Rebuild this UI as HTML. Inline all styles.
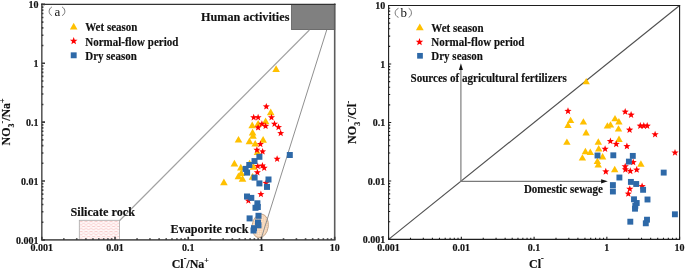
<!DOCTYPE html>
<html><head><meta charset="utf-8"><style>
html,body{margin:0;padding:0;background:#fff;}
body{width:685px;height:270px;overflow:hidden;}
svg{display:block;will-change:transform;}
text{font-family:"Liberation Serif",serif;font-weight:bold;fill:#111;stroke:#111;stroke-width:0.15px;}
.tk{font-size:10px;}
.an{font-size:12.2px;}
.an2{font-size:11px;}
.lg{font-size:11px;}
.at{font-size:12px;}
.pl{font-size:13px;font-weight:normal;stroke:none;fill:#111;}
</style></head><body>
<svg width="685" height="270" viewBox="0 0 685 270">
<defs>
<pattern id="pk" x="79.3" y="220.3" width="5" height="3.3" patternUnits="userSpaceOnUse">
<rect width="5" height="3.3" fill="#fffafa"/>
<rect x="0.3" y="0.9" width="3" height="0.9" fill="#f8c6c6"/>
<rect x="2.8" y="2.55" width="3" height="0.9" fill="#f8c6c6"/>
<rect x="-2.2" y="2.55" width="3" height="0.9" fill="#f8c6c6"/>
</pattern>
<pattern id="pc" width="2" height="2" patternUnits="userSpaceOnUse">
<rect width="2" height="2" fill="#fce8d6"/>
<path d="M0 0.5H2M0.5 0V2" stroke="#f2c9a4" stroke-width="0.6"/>
</pattern>
</defs>
<rect width="685" height="270" fill="#fff"/>
<rect x="79.3" y="220.3" width="40.3" height="19.2" fill="url(#pk)" stroke="#a8a8a8" stroke-width="0.8"/>
<rect x="291.6" y="4.5" width="43.2" height="25.1" fill="#808080" stroke="#5a5a5a" stroke-width="0.8"/>
<ellipse cx="260.2" cy="225.9" rx="8.1" ry="12.0" transform="rotate(8 260.2 225.9)" fill="url(#pc)" stroke="#b39478" stroke-width="0.75"/>
<path d="M119.7 220.5L309.4 30" stroke="#a2a2a2" stroke-width="1.15" fill="none"/>
<path d="M261.3 238.2L326.7 30" stroke="#909090" stroke-width="1.0" fill="none"/>
<path d="M276.10 65.31L279.90 72.01L272.30 72.01Z" fill="#FFC000"/>
<path d="M270.70 108.61L274.50 115.31L266.90 115.31Z" fill="#FFC000"/>
<path d="M265.60 117.51L269.40 124.21L261.80 124.21Z" fill="#FFC000"/>
<path d="M258.10 120.01L261.90 126.71L254.30 126.71Z" fill="#FFC000"/>
<path d="M252.20 121.51L256.00 128.21L248.40 128.21Z" fill="#FFC000"/>
<path d="M252.60 128.71L256.40 135.41L248.80 135.41Z" fill="#FFC000"/>
<path d="M253.00 132.01L256.80 138.71L249.20 138.71Z" fill="#FFC000"/>
<path d="M238.50 135.91L242.30 142.61L234.70 142.61Z" fill="#FFC000"/>
<path d="M249.40 137.51L253.20 144.21L245.60 144.21Z" fill="#FFC000"/>
<path d="M263.10 136.11L266.90 142.81L259.30 142.81Z" fill="#FFC000"/>
<path d="M255.20 139.91L259.00 146.61L251.40 146.61Z" fill="#FFC000"/>
<path d="M257.50 148.41L261.30 155.11L253.70 155.11Z" fill="#FFC000"/>
<path d="M234.40 159.81L238.20 166.51L230.60 166.51Z" fill="#FFC000"/>
<path d="M249.60 159.71L253.40 166.41L245.80 166.41Z" fill="#FFC000"/>
<path d="M253.50 163.01L257.30 169.71L249.70 169.71Z" fill="#FFC000"/>
<path d="M240.80 163.81L244.60 170.51L237.00 170.51Z" fill="#FFC000"/>
<path d="M241.30 169.31L245.10 176.01L237.50 176.01Z" fill="#FFC000"/>
<path d="M238.40 172.51L242.20 179.21L234.60 179.21Z" fill="#FFC000"/>
<path d="M242.50 175.01L246.30 181.71L238.70 181.71Z" fill="#FFC000"/>
<path d="M252.50 173.11L256.30 179.81L248.70 179.81Z" fill="#FFC000"/>
<path d="M223.90 178.51L227.70 185.21L220.10 185.21Z" fill="#FFC000"/>
<path d="M266.30 102.90L267.21 105.34L269.82 105.46L267.78 107.08L268.47 109.59L266.30 108.15L264.13 109.59L264.82 107.08L262.78 105.46L265.39 105.34Z" fill="#FF0000"/>
<path d="M253.70 113.80L254.61 116.24L257.22 116.36L255.18 117.98L255.87 120.49L253.70 119.05L251.53 120.49L252.22 117.98L250.18 116.36L252.79 116.24Z" fill="#FF0000"/>
<path d="M258.10 113.80L259.01 116.24L261.62 116.36L259.58 117.98L260.27 120.49L258.10 119.05L255.93 120.49L256.62 117.98L254.58 116.36L257.19 116.24Z" fill="#FF0000"/>
<path d="M271.50 113.80L272.41 116.24L275.02 116.36L272.98 117.98L273.67 120.49L271.50 119.05L269.33 120.49L270.02 117.98L267.98 116.36L270.59 116.24Z" fill="#FF0000"/>
<path d="M261.90 120.20L262.81 122.64L265.42 122.76L263.38 124.38L264.07 126.89L261.90 125.45L259.73 126.89L260.42 124.38L258.38 122.76L260.99 122.64Z" fill="#FF0000"/>
<path d="M265.60 122.40L266.51 124.84L269.12 124.96L267.08 126.58L267.77 129.09L265.60 127.65L263.43 129.09L264.12 126.58L262.08 124.96L264.69 124.84Z" fill="#FF0000"/>
<path d="M258.10 123.90L259.01 126.34L261.62 126.46L259.58 128.08L260.27 130.59L258.10 129.15L255.93 130.59L256.62 128.08L254.58 126.46L257.19 126.34Z" fill="#FF0000"/>
<path d="M274.50 120.30L275.41 122.74L278.02 122.86L275.98 124.48L276.67 126.99L274.50 125.55L272.33 126.99L273.02 124.48L270.98 122.86L273.59 122.74Z" fill="#FF0000"/>
<path d="M278.50 123.60L279.41 126.04L282.02 126.16L279.98 127.78L280.67 130.29L278.50 128.85L276.33 130.29L277.02 127.78L274.98 126.16L277.59 126.04Z" fill="#FF0000"/>
<path d="M280.70 129.60L281.61 132.04L284.22 132.16L282.18 133.78L282.87 136.29L280.70 134.85L278.53 136.29L279.22 133.78L277.18 132.16L279.79 132.04Z" fill="#FF0000"/>
<path d="M260.40 140.50L261.31 142.94L263.92 143.06L261.88 144.68L262.57 147.19L260.40 145.75L258.23 147.19L258.92 144.68L256.88 143.06L259.49 142.94Z" fill="#FF0000"/>
<path d="M256.90 146.30L257.81 148.74L260.42 148.86L258.38 150.48L259.07 152.99L256.90 151.55L254.73 152.99L255.42 150.48L253.38 148.86L255.99 148.74Z" fill="#FF0000"/>
<path d="M262.60 147.90L263.51 150.34L266.12 150.46L264.08 152.08L264.77 154.59L262.60 153.15L260.43 154.59L261.12 152.08L259.08 150.46L261.69 150.34Z" fill="#FF0000"/>
<path d="M277.10 155.30L278.01 157.74L280.62 157.86L278.58 159.48L279.27 161.99L277.10 160.55L274.93 161.99L275.62 159.48L273.58 157.86L276.19 157.74Z" fill="#FF0000"/>
<path d="M257.80 162.50L258.71 164.94L261.32 165.06L259.28 166.68L259.97 169.19L257.80 167.75L255.63 169.19L256.32 166.68L254.28 165.06L256.89 164.94Z" fill="#FF0000"/>
<path d="M262.40 162.00L263.31 164.44L265.92 164.56L263.88 166.18L264.57 168.69L262.40 167.25L260.23 168.69L260.92 166.18L258.88 164.56L261.49 164.44Z" fill="#FF0000"/>
<path d="M264.20 164.30L265.11 166.74L267.72 166.86L265.68 168.48L266.37 170.99L264.20 169.55L262.03 170.99L262.72 168.48L260.68 166.86L263.29 166.74Z" fill="#FF0000"/>
<path d="M257.40 168.70L258.31 171.14L260.92 171.26L258.88 172.88L259.57 175.39L257.40 173.95L255.23 175.39L255.92 172.88L253.88 171.26L256.49 171.14Z" fill="#FF0000"/>
<path d="M266.00 179.40L266.91 181.84L269.52 181.96L267.48 183.58L268.17 186.09L266.00 184.65L263.83 186.09L264.52 183.58L262.48 181.96L265.09 181.84Z" fill="#FF0000"/>
<path d="M260.90 190.60L261.81 193.04L264.42 193.16L262.38 194.78L263.07 197.29L260.90 195.85L258.73 197.29L259.42 194.78L257.38 193.16L259.99 193.04Z" fill="#FF0000"/>
<path d="M248.40 197.10L249.31 199.54L251.92 199.66L249.88 201.28L250.57 203.79L248.40 202.35L246.23 203.79L246.92 201.28L244.88 199.66L247.49 199.54Z" fill="#FF0000"/>
<rect x="286.80" y="152.00" width="6.0" height="6.0" fill="#2E69A8"/>
<rect x="256.40" y="153.80" width="6.0" height="6.0" fill="#2E69A8"/>
<rect x="251.50" y="158.10" width="6.0" height="6.0" fill="#2E69A8"/>
<rect x="246.30" y="162.00" width="6.0" height="6.0" fill="#2E69A8"/>
<rect x="242.60" y="165.90" width="6.0" height="6.0" fill="#2E69A8"/>
<rect x="244.10" y="169.60" width="6.0" height="6.0" fill="#2E69A8"/>
<rect x="251.60" y="174.60" width="6.0" height="6.0" fill="#2E69A8"/>
<rect x="256.40" y="180.40" width="6.0" height="6.0" fill="#2E69A8"/>
<rect x="265.50" y="176.50" width="6.0" height="6.0" fill="#2E69A8"/>
<rect x="264.00" y="183.90" width="6.0" height="6.0" fill="#2E69A8"/>
<rect x="244.00" y="193.50" width="6.0" height="6.0" fill="#2E69A8"/>
<rect x="248.30" y="194.90" width="6.0" height="6.0" fill="#2E69A8"/>
<rect x="254.40" y="200.30" width="6.0" height="6.0" fill="#2E69A8"/>
<rect x="254.80" y="204.00" width="6.0" height="6.0" fill="#2E69A8"/>
<rect x="252.50" y="204.80" width="6.0" height="6.0" fill="#2E69A8"/>
<rect x="246.60" y="215.40" width="6.0" height="6.0" fill="#2E69A8"/>
<rect x="255.50" y="212.80" width="6.0" height="6.0" fill="#2E69A8"/>
<rect x="255.00" y="219.50" width="6.0" height="6.0" fill="#2E69A8"/>
<rect x="255.50" y="222.30" width="6.0" height="6.0" fill="#2E69A8"/>
<rect x="251.00" y="225.20" width="6.0" height="6.0" fill="#2E69A8"/>
<rect x="250.50" y="227.50" width="6.0" height="6.0" fill="#2E69A8"/>
<path d="M41.8 4.4V239.9H334.7V4.4" fill="none" stroke="#5c5c5c" stroke-width="1.6" stroke-linejoin="miter" stroke-linecap="square"/><path d="M41.0 4.4H335.5" fill="none" stroke="#333" stroke-width="1.3"/><path d="M41.80 239.9v-3.2M41.8 239.90h3.2M63.84 239.9v-1.6M41.8 222.18h1.6M76.74 239.9v-1.6M41.8 211.81h1.6M85.89 239.9v-1.6M41.8 204.45h1.6M92.98 239.9v-1.6M41.8 198.75h1.6M98.78 239.9v-1.6M41.8 194.09h1.6M103.68 239.9v-1.6M41.8 190.14h1.6M107.93 239.9v-1.6M41.8 186.73h1.6M111.67 239.9v-1.6M41.8 183.72h1.6M115.02 239.9v-3.2M41.8 181.03h3.2M137.07 239.9v-1.6M41.8 163.30h1.6M149.96 239.9v-1.6M41.8 152.93h1.6M159.11 239.9v-1.6M41.8 145.58h1.6M166.21 239.9v-1.6M41.8 139.87h1.6M172.01 239.9v-1.6M41.8 135.21h1.6M176.91 239.9v-1.6M41.8 131.27h1.6M181.15 239.9v-1.6M41.8 127.86h1.6M184.90 239.9v-1.6M41.8 124.84h1.6M188.25 239.9v-3.2M41.8 122.15h3.2M210.29 239.9v-1.6M41.8 104.43h1.6M223.19 239.9v-1.6M41.8 94.06h1.6M232.34 239.9v-1.6M41.8 86.70h1.6M239.43 239.9v-1.6M41.8 81.00h1.6M245.23 239.9v-1.6M41.8 76.34h1.6M250.13 239.9v-1.6M41.8 72.39h1.6M254.38 239.9v-1.6M41.8 68.98h1.6M258.12 239.9v-1.6M41.8 65.97h1.6M261.47 239.9v-3.2M41.8 63.28h3.2M283.52 239.9v-1.6M41.8 45.55h1.6M296.41 239.9v-1.6M41.8 35.18h1.6M305.56 239.9v-1.6M41.8 27.83h1.6M312.66 239.9v-1.6M41.8 22.12h1.6M318.46 239.9v-1.6M41.8 17.46h1.6M323.36 239.9v-1.6M41.8 13.52h1.6M327.60 239.9v-1.6M41.8 10.11h1.6M331.35 239.9v-1.6M41.8 7.09h1.6M334.70 239.9v-3.2M41.8 4.40h3.2" stroke="#3a3a3a" stroke-width="1.6" fill="none"/>
<text x="41.80" y="251.1" text-anchor="middle" class="tk">0.001</text><text x="38.60" y="243.60" text-anchor="end" class="tk">0.001</text><text x="115.02" y="251.1" text-anchor="middle" class="tk">0.01</text><text x="38.60" y="184.72" text-anchor="end" class="tk">0.01</text><text x="188.25" y="251.1" text-anchor="middle" class="tk">0.1</text><text x="38.60" y="125.85" text-anchor="end" class="tk">0.1</text><text x="261.47" y="251.1" text-anchor="middle" class="tk">1</text><text x="38.60" y="66.98" text-anchor="end" class="tk">1</text><text x="334.70" y="251.1" text-anchor="middle" class="tk">10</text><text x="38.60" y="8.10" text-anchor="end" class="tk">10</text>
<text transform="translate(201 21.45) scale(1 1.09)" class="an">Human activities</text>
<text transform="translate(70.5 215.8) scale(1 1.09)" class="an">Silicate rock</text>
<text transform="translate(170.5 232.5) scale(1 1.09)" class="an">Evaporite rock</text>
<path d="M51.8 7C48.27 8.8 48.27 14 51.8 15.6M62.1 7C65.77 8.8 65.77 14 62.1 15.6" stroke="#555" stroke-width="0.8" fill="none"/>
<text x="54.4" y="15.6" class="pl">a</text>
<path d="M73.70 22.76L77.50 29.56L69.90 29.56Z" fill="#FFC000"/>
<path d="M73.70 37.00L74.69 39.64L77.50 39.76L75.30 41.52L76.05 44.24L73.70 42.68L71.35 44.24L72.10 41.52L69.90 39.76L72.71 39.64Z" fill="#FF0000"/>
<rect x="70.75" y="52.35" width="5.9" height="5.9" fill="#2E69A8"/>
<text transform="translate(85.2 31.4) scale(1 1.09)" class="lg">Wet season</text>
<text transform="translate(85.2 45.6) scale(1 1.09)" class="lg">Normal-flow period</text>
<text transform="translate(85.2 59.7) scale(1 1.09)" class="lg">Dry season</text>
<text x="190.3" y="267.8" text-anchor="middle" class="at">Cl<tspan dy="-6.4" font-size="8">-</tspan><tspan dy="6.4">/Na</tspan><tspan dy="-4.6" font-size="8">+</tspan></text>
<text transform="translate(10.2 145.4) rotate(-90) scale(1 1.1)" textLength="47" lengthAdjust="spacingAndGlyphs" class="at">NO<tspan dy="3" font-size="8">3</tspan><tspan dy="-7.5" font-size="8">-</tspan><tspan dy="4.5">/Na</tspan><tspan dy="-4.6" font-size="8">+</tspan></text>
<path d="M388.6 239.4L679.6 5.5" stroke="#505050" stroke-width="1.15" fill="none"/>
<path d="M460.9 181.4V68.5" stroke="#828282" stroke-width="1.25" fill="none"/>
<path d="M460.3 181.3H602" stroke="#7a7a7a" stroke-width="1.25" fill="none"/>
<path d="M460.9 63.2L458.9 69.9L462.9 69.9Z" fill="#111"/>
<path d="M607.8 181.3L601.1 179.2L601.1 183.4Z" fill="#111"/>
<path d="M586.20 77.89L589.90 84.29L582.50 84.29Z" fill="#FFC000"/>
<path d="M570.60 116.69L574.30 123.09L566.90 123.09Z" fill="#FFC000"/>
<path d="M568.00 121.49L571.70 127.89L564.30 127.89Z" fill="#FFC000"/>
<path d="M583.40 118.19L587.10 124.59L579.70 124.59Z" fill="#FFC000"/>
<path d="M586.10 129.09L589.80 135.49L582.40 135.49Z" fill="#FFC000"/>
<path d="M566.90 138.39L570.60 144.79L563.20 144.79Z" fill="#FFC000"/>
<path d="M598.30 138.29L602.00 144.69L594.60 144.69Z" fill="#FFC000"/>
<path d="M598.70 145.09L602.40 151.49L595.00 151.49Z" fill="#FFC000"/>
<path d="M585.40 147.79L589.10 154.19L581.70 154.19Z" fill="#FFC000"/>
<path d="M590.30 148.49L594.00 154.89L586.60 154.89Z" fill="#FFC000"/>
<path d="M582.40 154.19L586.10 160.59L578.70 160.59Z" fill="#FFC000"/>
<path d="M602.60 152.99L606.30 159.39L598.90 159.39Z" fill="#FFC000"/>
<path d="M597.40 157.59L601.10 163.99L593.70 163.99Z" fill="#FFC000"/>
<path d="M598.20 161.09L601.90 167.49L594.50 167.49Z" fill="#FFC000"/>
<path d="M607.40 122.19L611.10 128.59L603.70 128.59Z" fill="#FFC000"/>
<path d="M610.50 121.19L614.20 127.59L606.80 127.59Z" fill="#FFC000"/>
<path d="M615.00 114.89L618.70 121.29L611.30 121.29Z" fill="#FFC000"/>
<path d="M618.90 117.99L622.60 124.39L615.20 124.39Z" fill="#FFC000"/>
<path d="M618.50 125.19L622.20 131.59L614.80 131.59Z" fill="#FFC000"/>
<path d="M619.00 135.59L622.70 141.99L615.30 141.99Z" fill="#FFC000"/>
<path d="M614.70 165.79L618.40 172.19L611.00 172.19Z" fill="#FFC000"/>
<path d="M640.90 160.29L644.60 166.69L637.20 166.69Z" fill="#FFC000"/>
<path d="M568.00 107.30L568.94 109.81L571.61 109.93L569.52 111.59L570.23 114.17L568.00 112.70L565.77 114.17L566.48 111.59L564.39 109.93L567.06 109.81Z" fill="#FF0000"/>
<path d="M625.20 108.00L626.14 110.51L628.81 110.63L626.72 112.29L627.43 114.87L625.20 113.40L622.97 114.87L623.68 112.29L621.59 110.63L624.26 110.51Z" fill="#FF0000"/>
<path d="M631.10 111.10L632.04 113.61L634.71 113.73L632.62 115.39L633.33 117.97L631.10 116.50L628.87 117.97L629.58 115.39L627.49 113.73L630.16 113.61Z" fill="#FF0000"/>
<path d="M629.60 126.10L630.54 128.61L633.21 128.73L631.12 130.39L631.83 132.97L629.60 131.50L627.37 132.97L628.08 130.39L625.99 128.73L628.66 128.61Z" fill="#FF0000"/>
<path d="M640.30 122.10L641.24 124.61L643.91 124.73L641.82 126.39L642.53 128.97L640.30 127.50L638.07 128.97L638.78 126.39L636.69 124.73L639.36 124.61Z" fill="#FF0000"/>
<path d="M643.80 122.10L644.74 124.61L647.41 124.73L645.32 126.39L646.03 128.97L643.80 127.50L641.57 128.97L642.28 126.39L640.19 124.73L642.86 124.61Z" fill="#FF0000"/>
<path d="M647.20 122.10L648.14 124.61L650.81 124.73L648.72 126.39L649.43 128.97L647.20 127.50L644.97 128.97L645.68 126.39L643.59 124.73L646.26 124.61Z" fill="#FF0000"/>
<path d="M655.10 130.70L656.04 133.21L658.71 133.33L656.62 134.99L657.33 137.57L655.10 136.10L652.87 137.57L653.58 134.99L651.49 133.33L654.16 133.21Z" fill="#FF0000"/>
<path d="M675.00 148.90L675.94 151.41L678.61 151.53L676.52 153.19L677.23 155.77L675.00 154.30L672.77 155.77L673.48 153.19L671.39 151.53L674.06 151.41Z" fill="#FF0000"/>
<path d="M610.40 137.40L611.34 139.91L614.01 140.03L611.92 141.69L612.63 144.27L610.40 142.80L608.17 144.27L608.88 141.69L606.79 140.03L609.46 139.91Z" fill="#FF0000"/>
<path d="M616.20 140.30L617.14 142.81L619.81 142.93L617.72 144.59L618.43 147.17L616.20 145.70L613.97 147.17L614.68 144.59L612.59 142.93L615.26 142.81Z" fill="#FF0000"/>
<path d="M626.90 142.50L627.84 145.01L630.51 145.13L628.42 146.79L629.13 149.37L626.90 147.90L624.67 149.37L625.38 146.79L623.29 145.13L625.96 145.01Z" fill="#FF0000"/>
<path d="M605.10 145.20L606.04 147.71L608.71 147.83L606.62 149.49L607.33 152.07L605.10 150.60L602.87 152.07L603.58 149.49L601.49 147.83L604.16 147.71Z" fill="#FF0000"/>
<path d="M633.20 158.50L634.14 161.01L636.81 161.13L634.72 162.79L635.43 165.37L633.20 163.90L630.97 165.37L631.68 162.79L629.59 161.13L632.26 161.01Z" fill="#FF0000"/>
<path d="M625.20 162.70L626.14 165.21L628.81 165.33L626.72 166.99L627.43 169.57L625.20 168.10L622.97 169.57L623.68 166.99L621.59 165.33L624.26 165.21Z" fill="#FF0000"/>
<path d="M625.40 165.80L626.34 168.31L629.01 168.43L626.92 170.09L627.63 172.67L625.40 171.20L623.17 172.67L623.88 170.09L621.79 168.43L624.46 168.31Z" fill="#FF0000"/>
<path d="M630.30 167.30L631.24 169.81L633.91 169.93L631.82 171.59L632.53 174.17L630.30 172.70L628.07 174.17L628.78 171.59L626.69 169.93L629.36 169.81Z" fill="#FF0000"/>
<path d="M636.70 166.00L637.64 168.51L640.31 168.63L638.22 170.29L638.93 172.87L636.70 171.40L634.47 172.87L635.18 170.29L633.09 168.63L635.76 168.51Z" fill="#FF0000"/>
<path d="M605.80 167.80L606.74 170.31L609.41 170.43L607.32 172.09L608.03 174.67L605.80 173.20L603.57 174.67L604.28 172.09L602.19 170.43L604.86 170.31Z" fill="#FF0000"/>
<path d="M642.10 182.60L643.04 185.11L645.71 185.23L643.62 186.89L644.33 189.47L642.10 188.00L639.87 189.47L640.58 186.89L638.49 185.23L641.16 185.11Z" fill="#FF0000"/>
<path d="M629.80 185.20L630.74 187.71L633.41 187.83L631.32 189.49L632.03 192.07L629.80 190.60L627.57 192.07L628.28 189.49L626.19 187.83L628.86 187.71Z" fill="#FF0000"/>
<path d="M628.30 190.00L629.24 192.51L631.91 192.63L629.82 194.29L630.53 196.87L628.30 195.40L626.07 196.87L626.78 194.29L624.69 192.63L627.36 192.51Z" fill="#FF0000"/>
<rect x="594.55" y="152.55" width="5.9" height="5.9" fill="#2E69A8"/>
<rect x="610.35" y="152.35" width="5.9" height="5.9" fill="#2E69A8"/>
<rect x="629.85" y="152.95" width="5.9" height="5.9" fill="#2E69A8"/>
<rect x="625.95" y="158.65" width="5.9" height="5.9" fill="#2E69A8"/>
<rect x="616.45" y="174.55" width="5.9" height="5.9" fill="#2E69A8"/>
<rect x="609.95" y="182.15" width="5.9" height="5.9" fill="#2E69A8"/>
<rect x="609.95" y="188.55" width="5.9" height="5.9" fill="#2E69A8"/>
<rect x="627.95" y="178.95" width="5.9" height="5.9" fill="#2E69A8"/>
<rect x="633.25" y="181.05" width="5.9" height="5.9" fill="#2E69A8"/>
<rect x="640.15" y="186.85" width="5.9" height="5.9" fill="#2E69A8"/>
<rect x="631.05" y="196.35" width="5.9" height="5.9" fill="#2E69A8"/>
<rect x="633.75" y="200.05" width="5.9" height="5.9" fill="#2E69A8"/>
<rect x="632.35" y="202.85" width="5.9" height="5.9" fill="#2E69A8"/>
<rect x="632.05" y="205.75" width="5.9" height="5.9" fill="#2E69A8"/>
<rect x="644.55" y="196.55" width="5.9" height="5.9" fill="#2E69A8"/>
<rect x="627.35" y="218.75" width="5.9" height="5.9" fill="#2E69A8"/>
<rect x="644.05" y="216.75" width="5.9" height="5.9" fill="#2E69A8"/>
<rect x="642.85" y="220.35" width="5.9" height="5.9" fill="#2E69A8"/>
<rect x="671.95" y="211.35" width="5.9" height="5.9" fill="#2E69A8"/>
<rect x="660.75" y="169.65" width="5.9" height="5.9" fill="#2E69A8"/>
<path d="M388.6 5.5V239.4H679.6V5.5" fill="none" stroke="#1e1e1e" stroke-width="1.1" stroke-linejoin="miter" stroke-linecap="square"/><path d="M388.05 5.5H680.15" fill="none" stroke="#1e1e1e" stroke-width="1.1"/><path d="M388.60 239.4v-2.6M388.6 239.40h2.6M410.50 239.4v-1.6M388.6 221.80h1.6M423.31 239.4v-1.6M388.6 211.50h1.6M432.40 239.4v-1.6M388.6 204.19h1.6M439.45 239.4v-1.6M388.6 198.53h1.6M445.21 239.4v-1.6M388.6 193.90h1.6M450.08 239.4v-1.6M388.6 189.98h1.6M454.30 239.4v-1.6M388.6 186.59h1.6M458.02 239.4v-1.6M388.6 183.60h1.6M461.35 239.4v-2.6M388.6 180.93h2.6M483.25 239.4v-1.6M388.6 163.32h1.6M496.06 239.4v-1.6M388.6 153.03h1.6M505.15 239.4v-1.6M388.6 145.72h1.6M512.20 239.4v-1.6M388.6 140.05h1.6M517.96 239.4v-1.6M388.6 135.42h1.6M522.83 239.4v-1.6M388.6 131.51h1.6M527.05 239.4v-1.6M388.6 128.12h1.6M530.77 239.4v-1.6M388.6 125.13h1.6M534.10 239.4v-2.6M388.6 122.45h2.6M556.00 239.4v-1.6M388.6 104.85h1.6M568.81 239.4v-1.6M388.6 94.55h1.6M577.90 239.4v-1.6M388.6 87.24h1.6M584.95 239.4v-1.6M388.6 81.58h1.6M590.71 239.4v-1.6M388.6 76.95h1.6M595.58 239.4v-1.6M388.6 73.03h1.6M599.80 239.4v-1.6M388.6 69.64h1.6M603.52 239.4v-1.6M388.6 66.65h1.6M606.85 239.4v-2.6M388.6 63.97h2.6M628.75 239.4v-1.6M388.6 46.37h1.6M641.56 239.4v-1.6M388.6 36.08h1.6M650.65 239.4v-1.6M388.6 28.77h1.6M657.70 239.4v-1.6M388.6 23.10h1.6M663.46 239.4v-1.6M388.6 18.47h1.6M668.33 239.4v-1.6M388.6 14.56h1.6M672.55 239.4v-1.6M388.6 11.17h1.6M676.27 239.4v-1.6M388.6 8.18h1.6M679.60 239.4v-2.6M388.6 5.50h2.6" stroke="#1e1e1e" stroke-width="1.1" fill="none"/>
<text x="388.60" y="251.1" text-anchor="middle" class="tk">0.001</text><text x="385.30" y="243.10" text-anchor="end" class="tk">0.001</text><text x="461.35" y="251.1" text-anchor="middle" class="tk">0.01</text><text x="385.30" y="184.62" text-anchor="end" class="tk">0.01</text><text x="534.10" y="251.1" text-anchor="middle" class="tk">0.1</text><text x="385.30" y="126.15" text-anchor="end" class="tk">0.1</text><text x="606.85" y="251.1" text-anchor="middle" class="tk">1</text><text x="385.30" y="67.67" text-anchor="end" class="tk">1</text><text x="679.60" y="251.1" text-anchor="middle" class="tk">10</text><text x="385.30" y="9.20" text-anchor="end" class="tk">10</text>
<text transform="translate(410.5 81.9) scale(1 1.09)" textLength="156.2" lengthAdjust="spacingAndGlyphs" class="an2">Sources of agricultural fertilizers</text>
<text transform="translate(523.9 192.5) scale(1 1.09)" class="an2">Domestic sewage</text>
<path d="M398.5 8.3C394.03 10.1 394.03 15.6 398.5 17.4M408.7 8.3C412.37 10.1 412.37 15.6 408.7 17.4" stroke="#555" stroke-width="0.8" fill="none"/>
<text x="400.5" y="16.8" class="pl">b</text>
<path d="M419.80 23.46L423.70 30.26L415.90 30.26Z" fill="#FFC000"/>
<path d="M419.50 38.10L420.49 40.74L423.30 40.86L421.10 42.62L421.85 45.34L419.50 43.78L417.15 45.34L417.90 42.62L415.70 40.86L418.51 40.74Z" fill="#FF0000"/>
<rect x="417.15" y="52.95" width="5.7" height="5.7" fill="#2E69A8"/>
<text transform="translate(431.3 31.95) scale(1 1.09)" class="lg">Wet season</text>
<text transform="translate(431.3 46.15) scale(1 1.09)" class="lg">Normal-flow period</text>
<text transform="translate(431.3 60.15) scale(1 1.09)" class="lg">Dry season</text>
<text x="529.1" y="267.8" class="at">Cl<tspan dy="-6.4" font-size="8">-</tspan></text>
<text transform="translate(356.2 143.9) rotate(-90) scale(1 1.1)" textLength="43" lengthAdjust="spacingAndGlyphs" class="at">NO<tspan dy="3" font-size="8">3</tspan><tspan dy="-7.5" font-size="8">-</tspan><tspan dy="4.5">/Cl</tspan><tspan dy="-4.6" font-size="8">-</tspan></text>
</svg>
</body></html>
